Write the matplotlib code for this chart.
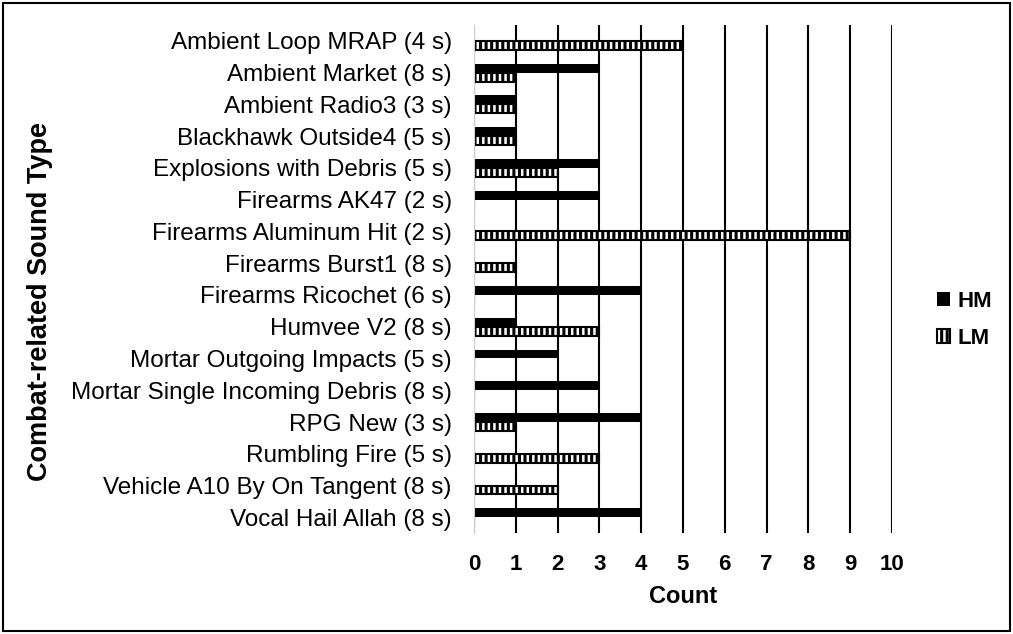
import matplotlib.pyplot as plt
from matplotlib.patches import Rectangle
import numpy as np

plt.rcParams['font.family'] = ['Liberation Sans', 'DejaVu Sans']
plt.rcParams['hatch.linewidth'] = 2.2

sounds = [
    "Ambient Loop MRAP (4 s)",
    "Ambient Market (8 s)",
    "Ambient Radio3 (3 s)",
    "Blackhawk Outside4 (5 s)",
    "Explosions with Debris (5 s)",
    "Firearms AK47 (2 s)",
    "Firearms Aluminum Hit (2 s)",
    "Firearms Burst1 (8 s)",
    "Firearms Ricochet (6 s)",
    "Humvee V2 (8 s)",
    "Mortar Outgoing Impacts (5 s)",
    "Mortar Single Incoming Debris (8 s)",
    "RPG New (3 s)",
    "Rumbling Fire (5 s)",
    "Vehicle A10 By On Tangent (8 s)",
    "Vocal Hail Allah (8 s)",
]
hm = [0, 3, 1, 1, 3, 3, 0, 0, 4, 1, 2, 3, 4, 0, 0, 4]
lm = [5, 1, 1, 1, 2, 0, 9, 1, 0, 3, 0, 0, 1, 3, 2, 0]

fig = plt.figure(figsize=(10.13, 6.34), dpi=100)
fig.patches.append(Rectangle((0.003, 0.004), 0.994, 0.992, transform=fig.transFigure,
                             fill=False, edgecolor='black', linewidth=1.5))
ax = fig.add_axes([0.468, 0.159, 0.4125, 0.8016])

y = np.arange(len(sounds))
h = 0.28
ax.barh(y - h / 2, hm, height=h, color='black', label='HM', zorder=3)
ax.barh(y + h / 2, lm, height=h, color='white', edgecolor='black', hatch='|||',
        linewidth=1.5, label='LM', zorder=3)

ax.set_ylim(len(sounds) - 0.5, -0.5)
ax.set_xlim(0, 10)
ax.set_xticks(range(0, 11))
ax.set_yticks(y)
ax.set_yticklabels(sounds, fontsize=17.5)
for t in ax.get_xticklabels():
    t.set_fontweight('bold')
    t.set_fontsize(16)
ax.tick_params(axis='both', length=0)
ax.tick_params(axis='x', pad=15)
ax.tick_params(axis='y', pad=16)
ax.grid(axis='x', color='black', linewidth=1.5, zorder=0)
for s in ['top', 'right', 'bottom']:
    ax.spines[s].set_visible(False)
ax.spines['left'].set_color('#d0d0d0')
ax.spines['left'].set_zorder(4)

ax.set_xlabel('Count', fontsize=17, fontweight='bold', labelpad=7)
fig.text(0.0395, 0.525, 'Combat-related Sound Type', rotation=90, fontsize=19.5,
         fontweight='bold', ha='center', va='center')

ax.legend(loc='center left', bbox_to_anchor=(1.06, 0.42), frameon=False,
          prop={'weight': 'bold', 'size': 16}, handlelength=0.6, handleheight=0.6,
          handletextpad=0.3, labelspacing=0.7)

fig.savefig('out.png', dpi=100)
